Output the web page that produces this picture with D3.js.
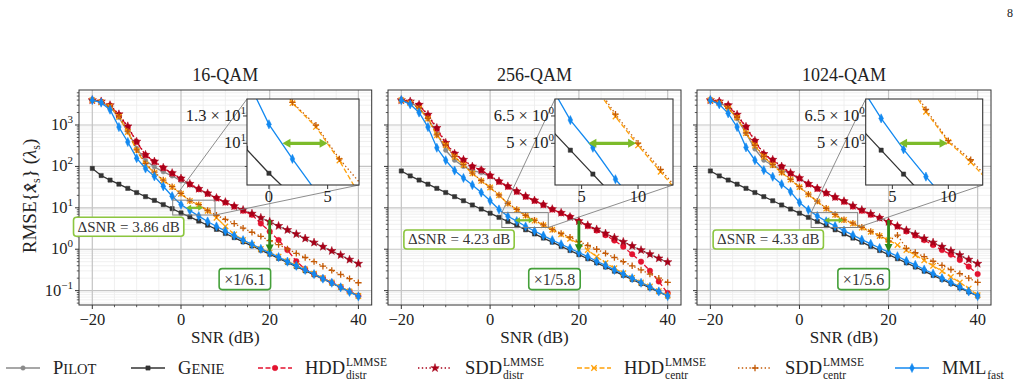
<!DOCTYPE html>
<html>
<head>
<meta charset="utf-8">
<script src="https://cdn.jsdelivr.net/npm/d3@7"></script>
<style>
  body { margin: 0; background: #fff; }
</style>
</head>
<body>
<script>
// SNR grid (dB)
const snr = [-20,-18,-16,-14,-12,-10,-8,-6,-4,-2,0,2,4,6,8,10,12,14,16,18,20,22,24,26,28,30,32,34,36,38,40];

// 16-QAM
const pilot16 = [3980,3550,2750,1510,692,275,138,97.7,74.1,58.9,44.7,35.5,27.5,21.9,17.2,13.6,10.8,8.81,7.16,5.69,4.57,3.63,2.88,2.29,1.80,1.43,1.14,0.902,0.716,0.556,0.442];
const genie16 = [89.1,60.3,46.8,37.2,29.5,23.4,18.6,15.1,12.0,9.55,7.50,6.03,4.79,3.80,3.02,2.40,1.91,1.51,1.20,0.955,0.759,0.603,0.479,0.380,0.302,0.240,0.191,0.151,0.120,0.0955,0.0759];
const hddDistr16 = [3980,3630,2950,1740,891,389,186,129,91.2,67.6,50.1,37.2,28.2,21.9,17.0,13.5,10.7,8.51,6.76,4.17,2.69,1.66,0.955,0.513,0.331,0.251,0.200,0.158,0.123,0.0955,0.0741];
const sddDistr16 = [3980,3720,3020,1820,933,398,191,132,93.3,69.2,51.3,38.0,28.8,22.4,17.4,13.8,11.0,8.91,7.24,5.75,4.62,3.67,2.92,2.32,1.82,1.45,1.15,0.912,0.724,0.562,0.447];
const hddCentr16 = [3980,3550,2820,1580,676,240,112,70.8,45.7,31.6,21.9,14.7,11.7,8.47,5.75,3.55,2.29,1.66,1.29,1.02,0.832,0.661,0.513,0.407,0.324,0.257,0.200,0.158,0.123,0.0955,0.0741];
const sddCentr16 = [3980,3550,2820,1660,708,251,117,72.4,46.8,32.4,22.4,14.8,11.9,8.61,6.61,5.25,4.17,3.24,2.57,2.04,1.62,1.29,1.02,0.794,0.631,0.501,0.389,0.309,0.245,0.195,0.155];
const mml16 = [3980,3470,2340,891,389,158,89.1,57.5,33.1,19.1,12.0,8.61,6.31,4.68,3.55,2.75,2.14,1.66,1.32,1.02,0.813,0.646,0.501,0.398,0.316,0.251,0.195,0.155,0.120,0.0933,0.0724];

// 256-QAM
const pilot256 = [3980,3550,2630,1410,631,245,141,100,79.4,70.8,56.2,43.2,32.7,24.8,18.8,15.0,11.9,9.23,7.50,5.96,4.73,3.76,2.99,2.37,1.88,1.50,1.19,0.944,0.750,0.596,0.484];
const genie256 = [77.6,58.9,46.8,37.2,29.5,23.4,18.6,14.8,11.7,9.33,7.41,5.89,4.68,3.72,2.95,2.34,1.86,1.48,1.17,0.933,0.741,0.589,0.468,0.372,0.295,0.234,0.186,0.148,0.117,0.0933,0.0741];
const hddDistr256 = [3980,3630,3020,1700,813,355,200,141,97.7,81.3,58.9,42.7,32.4,24.5,18.6,14.8,11.7,9.12,7.41,6.03,4.68,3.63,2.82,2.19,1.62,1.15,0.759,0.501,0.302,0.166,0.0871];
const sddDistr256 = [3980,3720,3090,1780,851,372,204,145,100,81.3,60.3,43.7,33.1,25.1,19.1,15.1,12.0,9.33,7.59,6.03,4.79,3.80,3.02,2.40,1.91,1.51,1.20,0.955,0.759,0.603,0.490];
const hddCentr256 = [3980,3390,2510,1410,562,324,170,107,67.6,44.7,30.9,20.0,12.6,8.91,6.46,4.90,3.80,2.95,2.29,1.78,1.35,0.955,0.661,0.468,0.347,0.263,0.204,0.158,0.126,0.0977,0.0759];
const sddCentr256 = [3980,3390,2570,1450,575,331,174,110,69.2,45.7,31.6,20.4,12.9,9.12,6.61,5.01,3.89,3.02,2.40,1.95,1.55,1.23,1.00,0.794,0.631,0.501,0.398,0.316,0.251,0.200,0.158];
const mml256 = [3980,3160,2000,891,282,141,79.4,52.5,35.5,23.4,14.8,9.12,6.25,4.79,3.54,2.75,2.14,1.66,1.32,1.05,0.832,0.661,0.513,0.407,0.316,0.251,0.200,0.155,0.123,0.0955,0.0741];

// 1024-QAM
const pilot1024 = [3980,3550,2630,1410,631,263,141,105,83.2,66.1,50.1,37.6,29.2,22.6,18.0,14.3,11.1,8.81,7.08,5.69,4.52,3.59,2.85,2.26,1.80,1.43,1.14,0.902,0.716,0.556,0.442];
const genie1024 = [77.6,58.9,46.8,37.2,29.5,23.4,18.6,14.8,11.7,9.33,7.41,5.89,4.68,3.72,2.95,2.34,1.86,1.48,1.17,0.933,0.741,0.589,0.468,0.372,0.295,0.234,0.186,0.148,0.117,0.0933,0.0741];
const hddDistr1024 = [3980,3630,2950,1700,891,407,195,141,97.7,67.6,51.3,37.2,28.8,22.4,17.8,14.1,10.7,8.51,6.76,5.62,4.47,3.55,2.69,2.14,1.66,1.26,0.955,0.741,0.550,0.380,0.251];
const sddDistr1024 = [3980,3720,3020,1780,912,417,200,145,100,69.2,52.5,38.0,29.5,22.9,18.2,14.5,11.2,8.91,7.16,5.75,4.57,3.63,2.88,2.29,1.82,1.45,1.15,0.912,0.724,0.562,0.447];
const hddCentr1024 = [3980,3390,2510,1510,631,316,170,107,70.8,47.9,31.6,20.9,14.1,9.55,6.76,5.07,4.17,3.31,2.63,2.09,1.66,1.26,0.955,0.724,0.537,0.398,0.295,0.214,0.158,0.112,0.0776];
const sddCentr1024 = [3980,3390,2570,1550,646,324,174,110,72.4,49.0,32.4,21.4,14.5,9.77,6.92,5.13,4.27,3.39,2.69,2.14,1.58,2.19,1.05,0.832,0.661,0.513,0.407,0.324,0.257,0.200,0.158];
const mml1024 = [3980,3160,1910,891,288,141,81.3,56.2,37.2,24.5,13.5,8.91,6.35,4.72,3.63,2.82,2.19,1.70,1.35,1.07,0.851,0.676,0.525,0.417,0.324,0.257,0.200,0.158,0.123,0.0955,0.0741];

const titles = ["16-QAM", "256-QAM", "1024-QAM"];

// zoomed insets (data ranges)
const insetSnr = [[-1.87, 7.67], [2.64, 13.1], [2.62, 13.07]];
const insetRmse = [[6.70, 15.3], [3.35, 7.65], [3.35, 7.65]];
const insetXTicks = [[0, 5], [5, 10], [5, 10]];
const insetYMinor = [[8], [4], [4]];
const insetYTicks = [[10, 13], [5, 6.5], [5, 6.5]];
const insetYMant = [["", "1.3"], ["5", "6.5"], ["5", "6.5"]];
const insetYExp = [["1", "1"], ["0", "0"], ["0", "0"]];

// annotations
const deltaSnr = ["3.86", "4.23", "4.33"];
const deltaLevel = [10, 5, 5];
const deltaFrom = [1.15, 5.6, 5.6];
const deltaTo = [5.0, 9.83, 9.93];
const gainText = ["1/6.1", "1/5.8", "1/5.6"];
const gainSnr = 20;
const gainTop = [5.07, 4.9, 5.07];
const gainBottom = [0.83, 0.84, 0.86];
const deltaBoxAt = [[-11.8, 3.5], [-7, 1.72], [-7, 1.72]];
const gainBoxAt = [[14.4, 0.19], [14.5, 0.19], [14.4, 0.19]];

const allSeries = [
  [pilot16, genie16, hddDistr16, sddDistr16, hddCentr16, sddCentr16, mml16],
  [pilot256, genie256, hddDistr256, sddDistr256, hddCentr256, sddCentr256, mml256],
  [pilot1024, genie1024, hddDistr1024, sddDistr1024, hddCentr1024, sddCentr1024, mml1024]
];

const styles = [
  {name: "Pilot", color: "#8a8a8a", dash: null, marker: "circleS"},
  {name: "Genie", color: "#333333", dash: null, marker: "square"},
  {name: "HDD", sup: "LMMSE", sub: "distr", color: "#e3122f", dash: "5,2.5", marker: "circle"},
  {name: "SDD", sup: "LMMSE", sub: "distr", color: "#a80018", dash: "1.4,2.4", marker: "star"},
  {name: "HDD", sup: "LMMSE", sub: "centr", color: "#ffa10a", dash: "5,2.5", marker: "x"},
  {name: "SDD", sup: "LMMSE", sub: "centr", color: "#c45a06", dash: "1.4,2.4", marker: "plus"},
  {name: "MML", sub: "fast", color: "#1389f0", dash: null, marker: "diamond"}
];

const SERIF = "Liberation Serif";
const W = 1026, H = 386;
const plotTop = 90, plotBottom = 305;
const panelBox = [[79, 371.7], [388, 681], [697, 991]];
const insetBox = [[247, 359], [555, 673], [865.7, 982.7]];
const insetTop = 99, insetBottom = 185;
const lightGreen = "#7cbb2a", darkGreen = "#2f8a1c";

const svg = d3.select("body").append("svg")
  .attr("width", W).attr("height", H)
  .attr("viewBox", [0, 0, W, H])
  .attr("font-family", SERIF);

svg.append("rect").attr("width", W).attr("height", H).attr("fill", "#fff");

// page number
svg.append("text").attr("x", 1010).attr("y", 17).attr("font-size", 12)
  .attr("text-anchor", "middle").attr("fill", "#222").text("8");

function markerPath(type) {
  switch (type) {
    case "circleS": return d3.symbol(d3.symbolCircle, 16)();
    case "circle": return d3.symbol(d3.symbolCircle, 24)();
    case "square": return d3.symbol(d3.symbolSquare, 18)();
    case "star": return d3.symbol(d3.symbolStar, 22)();
    case "diamond": return "M0,-4.6L2.3,0L0,4.6L-2.3,0Z";
    case "x": return "M-2.7,-2.7L2.7,2.7M-2.7,2.7L2.7,-2.7";
    case "plus": return "M-3.2,0H3.2M0,-3.2V3.2";
  }
}

function drawSeries(g, xs, ys, values, st) {
  const line = d3.line().x((d, i) => xs(snr[i])).y(d => ys(d));
  g.append("path").datum(values)
    .attr("d", line).attr("fill", "none")
    .attr("stroke", st.color).attr("stroke-width", 1.3)
    .attr("stroke-dasharray", st.dash);
  const open = st.marker === "x" || st.marker === "plus";
  g.selectAll(null).data(values).join("path")
    .attr("transform", (d, i) => `translate(${xs(snr[i])},${ys(d)})`)
    .attr("d", markerPath(st.marker))
    .attr("fill", open ? "none" : st.color)
    .attr("stroke", st.color)
    .attr("stroke-width", open ? 1.3 : 0.5);
}

function arrow(g, x1, y1, x2, y2, color, lw, hl, hw, both) {
  const L = Math.hypot(x2 - x1, y2 - y1), ux = (x2 - x1) / L, uy = (y2 - y1) / L;
  const px = -uy, py = ux;
  const sx = both ? x1 + ux * hl * 0.7 : x1, sy = both ? y1 + uy * hl * 0.7 : y1;
  g.append("line").attr("x1", sx).attr("y1", sy)
    .attr("x2", x2 - ux * hl * 0.7).attr("y2", y2 - uy * hl * 0.7)
    .attr("stroke", color).attr("stroke-width", lw);
  const head = (tx, ty, dx, dy) => {
    const bx = tx - dx * hl, by = ty - dy * hl;
    g.append("path")
      .attr("d", `M${tx},${ty}L${bx + px * hw / 2},${by + py * hw / 2}L${bx - px * hw / 2},${by - py * hw / 2}Z`)
      .attr("fill", color);
  };
  head(x2, y2, ux, uy);
  if (both) head(x1, y1, -ux, -uy);
}

function textBox(g, cx, cy, build, border, fs, padX, padY) {
  const t = g.append("text").attr("x", cx).attr("y", cy).attr("font-size", fs)
    .attr("text-anchor", "middle").attr("dominant-baseline", "central").attr("fill", "#333");
  build(t);
  const b = t.node().getBBox();
  g.insert("rect", () => t.node())
    .attr("x", b.x - padX).attr("y", b.y - padY)
    .attr("width", b.width + 2 * padX).attr("height", b.height + 2 * padY)
    .attr("rx", 3).attr("fill", "#fff")
    .attr("stroke", border).attr("stroke-width", 1.6);
}

function powLabel(t, mant, exp) {
  if (mant) t.append("tspan").text(mant + " × ");
  t.append("tspan").text("10");
  t.append("tspan").attr("dy", -7).attr("font-size", 11).text(exp.replace("-", "−"));
}

const majorY = [0.1, 1, 10, 100, 1000];
const minorY = [];
[0.01, 0.1, 1, 10, 100, 1000].forEach(p => { for (let k = 2; k <= 9; k++) minorY.push(p * k); });
const majorX = [-20, 0, 20, 40];
const minorX = [-15, -10, -5, 5, 10, 15, 25, 30, 35];

panelBox.forEach(([left, right], p) => {
  const x = d3.scaleLinear().domain([-23, 43]).range([left, right]);
  const y = d3.scaleLog().domain([0.045, 7000]).range([plotBottom, plotTop]);
  const g = svg.append("g").attr("fill", "#222");
  const yMin = minorY.filter(v => v > 0.045 && v < 7000);

  // grid
  const grid = g.append("g");
  grid.selectAll(null).data(minorX).join("line")
    .attr("x1", d => x(d)).attr("x2", d => x(d)).attr("y1", plotTop).attr("y2", plotBottom)
    .attr("stroke", "#ececec").attr("stroke-width", 0.8);
  grid.selectAll(null).data(yMin).join("line")
    .attr("x1", left).attr("x2", right).attr("y1", d => y(d)).attr("y2", d => y(d))
    .attr("stroke", "#ececec").attr("stroke-width", 0.8);
  grid.selectAll(null).data(majorX).join("line")
    .attr("x1", d => x(d)).attr("x2", d => x(d)).attr("y1", plotTop).attr("y2", plotBottom)
    .attr("stroke", "#c4c4c4").attr("stroke-width", 1.2);
  grid.selectAll(null).data(majorY).join("line")
    .attr("x1", left).attr("x2", right).attr("y1", d => y(d)).attr("y2", d => y(d))
    .attr("stroke", "#c4c4c4").attr("stroke-width", 1.2);

  // data
  svg.append("clipPath").attr("id", "clip" + p).append("rect")
    .attr("x", left).attr("y", plotTop).attr("width", right - left).attr("height", plotBottom - plotTop);
  const data = g.append("g").attr("clip-path", `url(#clip${p})`);
  allSeries[p].forEach((vals, i) => drawSeries(data, x, y, vals, styles[i]));

  // zoom indicator
  const [s0, s1] = insetSnr[p], [r0, r1] = insetRmse[p];
  const [il, ir] = insetBox[p];
  g.append("rect").attr("x", x(s0)).attr("y", y(r1))
    .attr("width", x(s1) - x(s0)).attr("height", y(r0) - y(r1))
    .attr("fill", "none").attr("stroke", "#808080").attr("stroke-width", 1);
  g.append("line").attr("x1", x(s0)).attr("y1", y(r1)).attr("x2", il).attr("y2", insetTop)
    .attr("stroke", "#808080").attr("stroke-width", 0.9);
  g.append("line").attr("x1", x(s1)).attr("y1", y(r0)).attr("x2", ir).attr("y2", insetBottom)
    .attr("stroke", "#808080").attr("stroke-width", 0.9);

  // annotation arrows in main plot
  arrow(g, x(deltaFrom[p]), y(deltaLevel[p]), x(deltaTo[p]), y(deltaLevel[p]), lightGreen, 2.2, 5, 6, true);
  arrow(g, x(gainSnr), y(gainTop[p]), x(gainSnr), y(gainBottom[p]), darkGreen, 2.8, 8, 8, false);

  // frame
  g.append("rect").attr("x", left).attr("y", plotTop).attr("width", right - left).attr("height", plotBottom - plotTop)
    .attr("fill", "none").attr("stroke", "#333").attr("stroke-width", 1);

  // axes ticks
  const ax = g.append("g").attr("stroke", "#333");
  ax.selectAll(null).data(majorX).join("line")
    .attr("x1", d => x(d)).attr("x2", d => x(d)).attr("y1", plotBottom).attr("y2", plotBottom + 4);
  ax.selectAll(null).data(minorX).join("line")
    .attr("x1", d => x(d)).attr("x2", d => x(d)).attr("y1", plotBottom).attr("y2", plotBottom + 2.2).attr("stroke-width", 0.8);
  ax.selectAll(null).data(majorY).join("line")
    .attr("x1", left - 4).attr("x2", left).attr("y1", d => y(d)).attr("y2", d => y(d));
  ax.selectAll(null).data(yMin).join("line")
    .attr("x1", left - 2.2).attr("x2", left).attr("y1", d => y(d)).attr("y2", d => y(d)).attr("stroke-width", 0.8);

  g.selectAll(null).data(majorX).join("text")
    .attr("x", d => x(d)).attr("y", plotBottom + 20).attr("font-size", 16.5)
    .attr("text-anchor", "middle").text(d => d3.format("d")(d));

  if (p === 0) {
    majorY.forEach(v => {
      const t = g.append("text").attr("x", left - 6).attr("y", y(v) + 5)
        .attr("font-size", 16.5).attr("text-anchor", "end");
      powLabel(t, "", String(Math.round(Math.log10(v))));
    });
  }

  g.append("text").attr("x", (left + right) / 2).attr("y", plotBottom + 38)
    .attr("font-size", 17).attr("text-anchor", "middle").text("SNR (dB)");
  g.append("text").attr("x", (left + right) / 2).attr("y", plotTop - 9)
    .attr("font-size", 18).attr("text-anchor", "middle").text(titles[p]);

  // text boxes
  textBox(g, x(deltaBoxAt[p][0]), y(deltaBoxAt[p][1]), t => {
    t.append("tspan").text("ΔSNR = " + deltaSnr[p] + " dB");
  }, "#8cc63f", 15, 4, 1.5);
  textBox(g, x(gainBoxAt[p][0]), y(gainBoxAt[p][1]), t => {
    t.append("tspan").text("×" + gainText[p]);
  }, "#45a03a", 16, 5, 2);

  // inset
  const xi = d3.scaleLinear().domain(insetSnr[p]).range([il, ir]);
  const yi = d3.scaleLog().domain(insetRmse[p]).range([insetBottom, insetTop]);
  const ig = svg.append("g").attr("fill", "#222");
  // y labels sit partly under the inset, as in the original
  insetYTicks[p].forEach((v, k) => {
    const t = ig.append("text").attr("x", il - 1).attr("y", yi(v) + 5)
      .attr("font-size", 16.5).attr("text-anchor", "end");
    powLabel(t, insetYMant[p][k], insetYExp[p][k]);
  });
  ig.append("rect").attr("x", il).attr("y", insetTop).attr("width", ir - il).attr("height", insetBottom - insetTop)
    .attr("fill", "#fff");
  svg.append("clipPath").attr("id", "iclip" + p).append("rect")
    .attr("x", il).attr("y", insetTop).attr("width", ir - il).attr("height", insetBottom - insetTop);
  const idata = ig.append("g").attr("clip-path", `url(#iclip${p})`);
  allSeries[p].forEach((vals, i) => drawSeries(idata, xi, yi, vals, styles[i]));
  arrow(ig, xi(deltaFrom[p]), yi(deltaLevel[p]), xi(deltaTo[p]), yi(deltaLevel[p]), lightGreen, 3.2, 8, 9, true);
  ig.append("rect").attr("x", il).attr("y", insetTop).attr("width", ir - il).attr("height", insetBottom - insetTop)
    .attr("fill", "none").attr("stroke", "#333").attr("stroke-width", 1.1);
  insetXTicks[p].forEach(v => {
    ig.append("line").attr("x1", xi(v)).attr("x2", xi(v)).attr("y1", insetBottom).attr("y2", insetBottom + 4).attr("stroke", "#333");
    ig.append("text").attr("x", xi(v)).attr("y", insetBottom + 17).attr("font-size", 16.5)
      .attr("text-anchor", "middle").text(v);
  });
  insetYMinor[p].forEach(v => {
    ig.append("line").attr("x1", il - 2.2).attr("x2", il).attr("y1", yi(v)).attr("y2", yi(v)).attr("stroke", "#333").attr("stroke-width", 0.8);
  });
  insetYTicks[p].forEach(v => {
    ig.append("line").attr("x1", il - 4).attr("x2", il).attr("y1", yi(v)).attr("y2", yi(v)).attr("stroke", "#333");
  });
});

// y label
const yl = svg.append("text").attr("transform", "translate(36,196) rotate(-90)")
  .attr("font-size", 19).attr("text-anchor", "middle").attr("fill", "#222");
yl.append("tspan").text("RMSE{");
yl.append("tspan").attr("font-weight", "bold").attr("font-style", "italic").text("x\u0302");
yl.append("tspan").attr("dy", 4).attr("font-size", 12).text("s");
yl.append("tspan").attr("dy", -4).text("} (");
yl.append("tspan").attr("font-style", "italic").text("λ");
yl.append("tspan").attr("dy", 4).attr("font-size", 12).text("s");
yl.append("tspan").attr("dy", -4).text(")");

// legend
const legendText = [53, 178, 305, 465, 624, 785, 942];
const legendY = 368;
const lg = svg.append("g").attr("fill", "#222");
styles.forEach((st, i) => {
  const tx = legendText[i], cx = tx - 30;
  lg.append("line").attr("x1", cx - 17).attr("x2", cx + 17).attr("y1", legendY).attr("y2", legendY)
    .attr("stroke", st.color).attr("stroke-width", 1.3).attr("stroke-dasharray", st.dash);
  const open = st.marker === "x" || st.marker === "plus";
  lg.append("path").attr("transform", `translate(${cx},${legendY})`).attr("d", markerPath(st.marker))
    .attr("fill", open ? "none" : st.color).attr("stroke", st.color).attr("stroke-width", open ? 1.3 : 0.5);
  const t = lg.append("text").attr("x", tx).attr("y", legendY + 6).attr("font-size", 18.5);
  if (i < 2) {
    t.append("tspan").text(st.name[0]);
    t.append("tspan").attr("font-size", 14.5).text(st.name.slice(1).toUpperCase());
  } else {
    t.text(st.name);
    const w = t.node().getComputedTextLength();
    if (st.sup) lg.append("text").attr("x", tx + w + 1).attr("y", legendY - 2).attr("font-size", 11.5).text(st.sup);
    if (st.sub) lg.append("text").attr("x", tx + w + 1).attr("y", legendY + 11).attr("font-size", 11.5).text(st.sub);
  }
});
</script>
</body>
</html>
